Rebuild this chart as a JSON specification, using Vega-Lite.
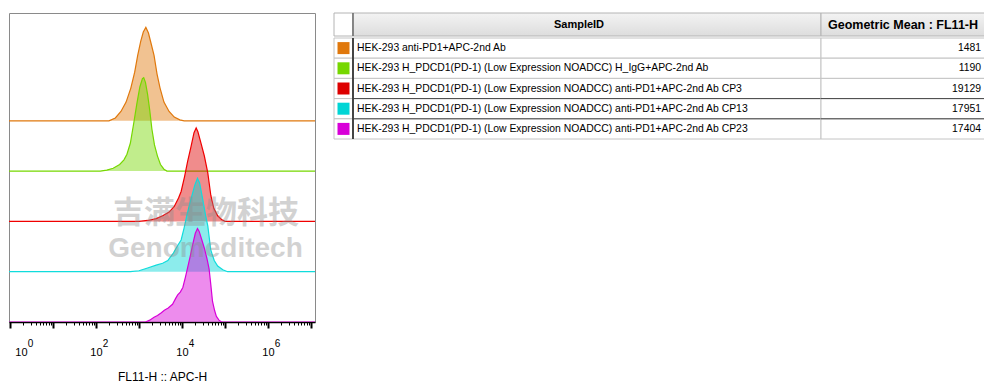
{
  "$schema": "https://vega.github.io/schema/vega-lite/v6.json",
  "background": "white",
  "padding": {"left": 8, "top": 12, "right": 0, "bottom": 0},
  "bounds": "flush",
  "config": {"font": "Liberation Sans", "view": {"stroke": null}},
  "datasets": {
    "table": [
      {"SampleID": "HEK-293 anti-PD1+APC-2nd Ab", "geomean": 1481},
      {"SampleID": "HEK-293 H_PDCD1(PD-1) (Low Expression NOADCC) H_IgG+APC-2nd Ab", "geomean": 1190},
      {"SampleID": "HEK-293 H_PDCD1(PD-1) (Low Expression NOADCC) anti-PD1+APC-2nd Ab CP3", "geomean": 19129},
      {"SampleID": "HEK-293 H_PDCD1(PD-1) (Low Expression NOADCC) anti-PD1+APC-2nd Ab CP13", "geomean": 17951},
      {"SampleID": "HEK-293 H_PDCD1(PD-1) (Low Expression NOADCC) anti-PD1+APC-2nd Ab CP23", "geomean": 17404}
    ],
    "hist": [
      {"s": "HEK-293 anti-PD1+APC-2nd Ab", "FL11-H": 0.9, "count": 0},
      {"s": "HEK-293 anti-PD1+APC-2nd Ab", "FL11-H": 200, "count": 0},
      {"s": "HEK-293 anti-PD1+APC-2nd Ab", "FL11-H": 282, "count": 3},
      {"s": "HEK-293 anti-PD1+APC-2nd Ab", "FL11-H": 380, "count": 10},
      {"s": "HEK-293 anti-PD1+APC-2nd Ab", "FL11-H": 501, "count": 20},
      {"s": "HEK-293 anti-PD1+APC-2nd Ab", "FL11-H": 646, "count": 35},
      {"s": "HEK-293 anti-PD1+APC-2nd Ab", "FL11-H": 794, "count": 52},
      {"s": "HEK-293 anti-PD1+APC-2nd Ab", "FL11-H": 933, "count": 70},
      {"s": "HEK-293 anti-PD1+APC-2nd Ab", "FL11-H": 1096, "count": 85},
      {"s": "HEK-293 anti-PD1+APC-2nd Ab", "FL11-H": 1259, "count": 95},
      {"s": "HEK-293 anti-PD1+APC-2nd Ab", "FL11-H": 1445, "count": 100},
      {"s": "HEK-293 anti-PD1+APC-2nd Ab", "FL11-H": 1660, "count": 94},
      {"s": "HEK-293 anti-PD1+APC-2nd Ab", "FL11-H": 1905, "count": 83},
      {"s": "HEK-293 anti-PD1+APC-2nd Ab", "FL11-H": 2239, "count": 70},
      {"s": "HEK-293 anti-PD1+APC-2nd Ab", "FL11-H": 2630, "count": 50},
      {"s": "HEK-293 anti-PD1+APC-2nd Ab", "FL11-H": 3090, "count": 35},
      {"s": "HEK-293 anti-PD1+APC-2nd Ab", "FL11-H": 3802, "count": 20},
      {"s": "HEK-293 anti-PD1+APC-2nd Ab", "FL11-H": 5012, "count": 10},
      {"s": "HEK-293 anti-PD1+APC-2nd Ab", "FL11-H": 6607, "count": 4},
      {"s": "HEK-293 anti-PD1+APC-2nd Ab", "FL11-H": 8913, "count": 1},
      {"s": "HEK-293 anti-PD1+APC-2nd Ab", "FL11-H": 11220, "count": 0},
      {"s": "HEK-293 anti-PD1+APC-2nd Ab", "FL11-H": 13000000, "count": 0},

      {"s": "HEK-293 H_PDCD1(PD-1) (Low Expression NOADCC) H_IgG+APC-2nd Ab", "FL11-H": 0.9, "count": 0},
      {"s": "HEK-293 H_PDCD1(PD-1) (Low Expression NOADCC) H_IgG+APC-2nd Ab", "FL11-H": 126, "count": 0},
      {"s": "HEK-293 H_PDCD1(PD-1) (Low Expression NOADCC) H_IgG+APC-2nd Ab", "FL11-H": 178, "count": 1},
      {"s": "HEK-293 H_PDCD1(PD-1) (Low Expression NOADCC) H_IgG+APC-2nd Ab", "FL11-H": 251, "count": 3},
      {"s": "HEK-293 H_PDCD1(PD-1) (Low Expression NOADCC) H_IgG+APC-2nd Ab", "FL11-H": 355, "count": 7},
      {"s": "HEK-293 H_PDCD1(PD-1) (Low Expression NOADCC) H_IgG+APC-2nd Ab", "FL11-H": 447, "count": 12},
      {"s": "HEK-293 H_PDCD1(PD-1) (Low Expression NOADCC) H_IgG+APC-2nd Ab", "FL11-H": 525, "count": 18},
      {"s": "HEK-293 H_PDCD1(PD-1) (Low Expression NOADCC) H_IgG+APC-2nd Ab", "FL11-H": 631, "count": 30},
      {"s": "HEK-293 H_PDCD1(PD-1) (Low Expression NOADCC) H_IgG+APC-2nd Ab", "FL11-H": 759, "count": 52},
      {"s": "HEK-293 H_PDCD1(PD-1) (Low Expression NOADCC) H_IgG+APC-2nd Ab", "FL11-H": 891, "count": 72},
      {"s": "HEK-293 H_PDCD1(PD-1) (Low Expression NOADCC) H_IgG+APC-2nd Ab", "FL11-H": 1047, "count": 90},
      {"s": "HEK-293 H_PDCD1(PD-1) (Low Expression NOADCC) H_IgG+APC-2nd Ab", "FL11-H": 1202, "count": 99},
      {"s": "HEK-293 H_PDCD1(PD-1) (Low Expression NOADCC) H_IgG+APC-2nd Ab", "FL11-H": 1288, "count": 100},
      {"s": "HEK-293 H_PDCD1(PD-1) (Low Expression NOADCC) H_IgG+APC-2nd Ab", "FL11-H": 1413, "count": 95},
      {"s": "HEK-293 H_PDCD1(PD-1) (Low Expression NOADCC) H_IgG+APC-2nd Ab", "FL11-H": 1585, "count": 82},
      {"s": "HEK-293 H_PDCD1(PD-1) (Low Expression NOADCC) H_IgG+APC-2nd Ab", "FL11-H": 1778, "count": 65},
      {"s": "HEK-293 H_PDCD1(PD-1) (Low Expression NOADCC) H_IgG+APC-2nd Ab", "FL11-H": 1995, "count": 45},
      {"s": "HEK-293 H_PDCD1(PD-1) (Low Expression NOADCC) H_IgG+APC-2nd Ab", "FL11-H": 2291, "count": 28},
      {"s": "HEK-293 H_PDCD1(PD-1) (Low Expression NOADCC) H_IgG+APC-2nd Ab", "FL11-H": 2692, "count": 16},
      {"s": "HEK-293 H_PDCD1(PD-1) (Low Expression NOADCC) H_IgG+APC-2nd Ab", "FL11-H": 3162, "count": 7},
      {"s": "HEK-293 H_PDCD1(PD-1) (Low Expression NOADCC) H_IgG+APC-2nd Ab", "FL11-H": 3802, "count": 2},
      {"s": "HEK-293 H_PDCD1(PD-1) (Low Expression NOADCC) H_IgG+APC-2nd Ab", "FL11-H": 4467, "count": 0},
      {"s": "HEK-293 H_PDCD1(PD-1) (Low Expression NOADCC) H_IgG+APC-2nd Ab", "FL11-H": 13000000, "count": 0},

      {"s": "HEK-293 H_PDCD1(PD-1) (Low Expression NOADCC) anti-PD1+APC-2nd Ab CP3", "FL11-H": 0.9, "count": 0},
      {"s": "HEK-293 H_PDCD1(PD-1) (Low Expression NOADCC) anti-PD1+APC-2nd Ab CP3", "FL11-H": 1000, "count": 0},
      {"s": "HEK-293 H_PDCD1(PD-1) (Low Expression NOADCC) anti-PD1+APC-2nd Ab CP3", "FL11-H": 1585, "count": 1},
      {"s": "HEK-293 H_PDCD1(PD-1) (Low Expression NOADCC) anti-PD1+APC-2nd Ab CP3", "FL11-H": 2512, "count": 3},
      {"s": "HEK-293 H_PDCD1(PD-1) (Low Expression NOADCC) anti-PD1+APC-2nd Ab CP3", "FL11-H": 3548, "count": 6},
      {"s": "HEK-293 H_PDCD1(PD-1) (Low Expression NOADCC) anti-PD1+APC-2nd Ab CP3", "FL11-H": 5012, "count": 10},
      {"s": "HEK-293 H_PDCD1(PD-1) (Low Expression NOADCC) anti-PD1+APC-2nd Ab CP3", "FL11-H": 6607, "count": 16},
      {"s": "HEK-293 H_PDCD1(PD-1) (Low Expression NOADCC) anti-PD1+APC-2nd Ab CP3", "FL11-H": 8318, "count": 25},
      {"s": "HEK-293 H_PDCD1(PD-1) (Low Expression NOADCC) anti-PD1+APC-2nd Ab CP3", "FL11-H": 9550, "count": 32},
      {"s": "HEK-293 H_PDCD1(PD-1) (Low Expression NOADCC) anti-PD1+APC-2nd Ab CP3", "FL11-H": 11482, "count": 48},
      {"s": "HEK-293 H_PDCD1(PD-1) (Low Expression NOADCC) anti-PD1+APC-2nd Ab CP3", "FL11-H": 13490, "count": 64},
      {"s": "HEK-293 H_PDCD1(PD-1) (Low Expression NOADCC) anti-PD1+APC-2nd Ab CP3", "FL11-H": 16218, "count": 80},
      {"s": "HEK-293 H_PDCD1(PD-1) (Low Expression NOADCC) anti-PD1+APC-2nd Ab CP3", "FL11-H": 19055, "count": 95},
      {"s": "HEK-293 H_PDCD1(PD-1) (Low Expression NOADCC) anti-PD1+APC-2nd Ab CP3", "FL11-H": 21380, "count": 100},
      {"s": "HEK-293 H_PDCD1(PD-1) (Low Expression NOADCC) anti-PD1+APC-2nd Ab CP3", "FL11-H": 23442, "count": 96},
      {"s": "HEK-293 H_PDCD1(PD-1) (Low Expression NOADCC) anti-PD1+APC-2nd Ab CP3", "FL11-H": 27542, "count": 84},
      {"s": "HEK-293 H_PDCD1(PD-1) (Low Expression NOADCC) anti-PD1+APC-2nd Ab CP3", "FL11-H": 33113, "count": 70},
      {"s": "HEK-293 H_PDCD1(PD-1) (Low Expression NOADCC) anti-PD1+APC-2nd Ab CP3", "FL11-H": 39811, "count": 52},
      {"s": "HEK-293 H_PDCD1(PD-1) (Low Expression NOADCC) anti-PD1+APC-2nd Ab CP3", "FL11-H": 46774, "count": 28},
      {"s": "HEK-293 H_PDCD1(PD-1) (Low Expression NOADCC) anti-PD1+APC-2nd Ab CP3", "FL11-H": 54954, "count": 14},
      {"s": "HEK-293 H_PDCD1(PD-1) (Low Expression NOADCC) anti-PD1+APC-2nd Ab CP3", "FL11-H": 67608, "count": 6},
      {"s": "HEK-293 H_PDCD1(PD-1) (Low Expression NOADCC) anti-PD1+APC-2nd Ab CP3", "FL11-H": 83176, "count": 2},
      {"s": "HEK-293 H_PDCD1(PD-1) (Low Expression NOADCC) anti-PD1+APC-2nd Ab CP3", "FL11-H": 100000, "count": 0},
      {"s": "HEK-293 H_PDCD1(PD-1) (Low Expression NOADCC) anti-PD1+APC-2nd Ab CP3", "FL11-H": 13000000, "count": 0},

      {"s": "HEK-293 H_PDCD1(PD-1) (Low Expression NOADCC) anti-PD1+APC-2nd Ab CP13", "FL11-H": 0.9, "count": 0},
      {"s": "HEK-293 H_PDCD1(PD-1) (Low Expression NOADCC) anti-PD1+APC-2nd Ab CP13", "FL11-H": 631, "count": 0},
      {"s": "HEK-293 H_PDCD1(PD-1) (Low Expression NOADCC) anti-PD1+APC-2nd Ab CP13", "FL11-H": 1000, "count": 1},
      {"s": "HEK-293 H_PDCD1(PD-1) (Low Expression NOADCC) anti-PD1+APC-2nd Ab CP13", "FL11-H": 1585, "count": 4},
      {"s": "HEK-293 H_PDCD1(PD-1) (Low Expression NOADCC) anti-PD1+APC-2nd Ab CP13", "FL11-H": 2512, "count": 7},
      {"s": "HEK-293 H_PDCD1(PD-1) (Low Expression NOADCC) anti-PD1+APC-2nd Ab CP13", "FL11-H": 3548, "count": 9},
      {"s": "HEK-293 H_PDCD1(PD-1) (Low Expression NOADCC) anti-PD1+APC-2nd Ab CP13", "FL11-H": 4677, "count": 12},
      {"s": "HEK-293 H_PDCD1(PD-1) (Low Expression NOADCC) anti-PD1+APC-2nd Ab CP13", "FL11-H": 6310, "count": 20},
      {"s": "HEK-293 H_PDCD1(PD-1) (Low Expression NOADCC) anti-PD1+APC-2nd Ab CP13", "FL11-H": 7943, "count": 28},
      {"s": "HEK-293 H_PDCD1(PD-1) (Low Expression NOADCC) anti-PD1+APC-2nd Ab CP13", "FL11-H": 9550, "count": 34},
      {"s": "HEK-293 H_PDCD1(PD-1) (Low Expression NOADCC) anti-PD1+APC-2nd Ab CP13", "FL11-H": 11220, "count": 47},
      {"s": "HEK-293 H_PDCD1(PD-1) (Low Expression NOADCC) anti-PD1+APC-2nd Ab CP13", "FL11-H": 13183, "count": 62},
      {"s": "HEK-293 H_PDCD1(PD-1) (Low Expression NOADCC) anti-PD1+APC-2nd Ab CP13", "FL11-H": 16218, "count": 78},
      {"s": "HEK-293 H_PDCD1(PD-1) (Low Expression NOADCC) anti-PD1+APC-2nd Ab CP13", "FL11-H": 19953, "count": 93},
      {"s": "HEK-293 H_PDCD1(PD-1) (Low Expression NOADCC) anti-PD1+APC-2nd Ab CP13", "FL11-H": 22909, "count": 100},
      {"s": "HEK-293 H_PDCD1(PD-1) (Low Expression NOADCC) anti-PD1+APC-2nd Ab CP13", "FL11-H": 25704, "count": 95},
      {"s": "HEK-293 H_PDCD1(PD-1) (Low Expression NOADCC) anti-PD1+APC-2nd Ab CP13", "FL11-H": 30200, "count": 78},
      {"s": "HEK-293 H_PDCD1(PD-1) (Low Expression NOADCC) anti-PD1+APC-2nd Ab CP13", "FL11-H": 35481, "count": 60},
      {"s": "HEK-293 H_PDCD1(PD-1) (Low Expression NOADCC) anti-PD1+APC-2nd Ab CP13", "FL11-H": 39811, "count": 49},
      {"s": "HEK-293 H_PDCD1(PD-1) (Low Expression NOADCC) anti-PD1+APC-2nd Ab CP13", "FL11-H": 46774, "count": 23},
      {"s": "HEK-293 H_PDCD1(PD-1) (Low Expression NOADCC) anti-PD1+APC-2nd Ab CP13", "FL11-H": 56234, "count": 12},
      {"s": "HEK-293 H_PDCD1(PD-1) (Low Expression NOADCC) anti-PD1+APC-2nd Ab CP13", "FL11-H": 67608, "count": 6},
      {"s": "HEK-293 H_PDCD1(PD-1) (Low Expression NOADCC) anti-PD1+APC-2nd Ab CP13", "FL11-H": 89125, "count": 2},
      {"s": "HEK-293 H_PDCD1(PD-1) (Low Expression NOADCC) anti-PD1+APC-2nd Ab CP13", "FL11-H": 114815, "count": 0},
      {"s": "HEK-293 H_PDCD1(PD-1) (Low Expression NOADCC) anti-PD1+APC-2nd Ab CP13", "FL11-H": 13000000, "count": 0},

      {"s": "HEK-293 H_PDCD1(PD-1) (Low Expression NOADCC) anti-PD1+APC-2nd Ab CP23", "FL11-H": 0.9, "count": 0},
      {"s": "HEK-293 H_PDCD1(PD-1) (Low Expression NOADCC) anti-PD1+APC-2nd Ab CP23", "FL11-H": 1413, "count": 0},
      {"s": "HEK-293 H_PDCD1(PD-1) (Low Expression NOADCC) anti-PD1+APC-2nd Ab CP23", "FL11-H": 1778, "count": 2},
      {"s": "HEK-293 H_PDCD1(PD-1) (Low Expression NOADCC) anti-PD1+APC-2nd Ab CP23", "FL11-H": 2239, "count": 5},
      {"s": "HEK-293 H_PDCD1(PD-1) (Low Expression NOADCC) anti-PD1+APC-2nd Ab CP23", "FL11-H": 2692, "count": 7},
      {"s": "HEK-293 H_PDCD1(PD-1) (Low Expression NOADCC) anti-PD1+APC-2nd Ab CP23", "FL11-H": 3311, "count": 10},
      {"s": "HEK-293 H_PDCD1(PD-1) (Low Expression NOADCC) anti-PD1+APC-2nd Ab CP23", "FL11-H": 3890, "count": 12.5},
      {"s": "HEK-293 H_PDCD1(PD-1) (Low Expression NOADCC) anti-PD1+APC-2nd Ab CP23", "FL11-H": 4786, "count": 15},
      {"s": "HEK-293 H_PDCD1(PD-1) (Low Expression NOADCC) anti-PD1+APC-2nd Ab CP23", "FL11-H": 6026, "count": 19},
      {"s": "HEK-293 H_PDCD1(PD-1) (Low Expression NOADCC) anti-PD1+APC-2nd Ab CP23", "FL11-H": 7079, "count": 25},
      {"s": "HEK-293 H_PDCD1(PD-1) (Low Expression NOADCC) anti-PD1+APC-2nd Ab CP23", "FL11-H": 7943, "count": 29},
      {"s": "HEK-293 H_PDCD1(PD-1) (Low Expression NOADCC) anti-PD1+APC-2nd Ab CP23", "FL11-H": 9120, "count": 32},
      {"s": "HEK-293 H_PDCD1(PD-1) (Low Expression NOADCC) anti-PD1+APC-2nd Ab CP23", "FL11-H": 10471, "count": 37},
      {"s": "HEK-293 H_PDCD1(PD-1) (Low Expression NOADCC) anti-PD1+APC-2nd Ab CP23", "FL11-H": 12023, "count": 48},
      {"s": "HEK-293 H_PDCD1(PD-1) (Low Expression NOADCC) anti-PD1+APC-2nd Ab CP23", "FL11-H": 13490, "count": 58},
      {"s": "HEK-293 H_PDCD1(PD-1) (Low Expression NOADCC) anti-PD1+APC-2nd Ab CP23", "FL11-H": 15488, "count": 70},
      {"s": "HEK-293 H_PDCD1(PD-1) (Low Expression NOADCC) anti-PD1+APC-2nd Ab CP23", "FL11-H": 17783, "count": 83},
      {"s": "HEK-293 H_PDCD1(PD-1) (Low Expression NOADCC) anti-PD1+APC-2nd Ab CP23", "FL11-H": 20417, "count": 95},
      {"s": "HEK-293 H_PDCD1(PD-1) (Low Expression NOADCC) anti-PD1+APC-2nd Ab CP23", "FL11-H": 22909, "count": 100},
      {"s": "HEK-293 H_PDCD1(PD-1) (Low Expression NOADCC) anti-PD1+APC-2nd Ab CP23", "FL11-H": 25119, "count": 97},
      {"s": "HEK-293 H_PDCD1(PD-1) (Low Expression NOADCC) anti-PD1+APC-2nd Ab CP23", "FL11-H": 28840, "count": 88},
      {"s": "HEK-293 H_PDCD1(PD-1) (Low Expression NOADCC) anti-PD1+APC-2nd Ab CP23", "FL11-H": 33113, "count": 79},
      {"s": "HEK-293 H_PDCD1(PD-1) (Low Expression NOADCC) anti-PD1+APC-2nd Ab CP23", "FL11-H": 38019, "count": 68},
      {"s": "HEK-293 H_PDCD1(PD-1) (Low Expression NOADCC) anti-PD1+APC-2nd Ab CP23", "FL11-H": 42658, "count": 57},
      {"s": "HEK-293 H_PDCD1(PD-1) (Low Expression NOADCC) anti-PD1+APC-2nd Ab CP23", "FL11-H": 46774, "count": 40},
      {"s": "HEK-293 H_PDCD1(PD-1) (Low Expression NOADCC) anti-PD1+APC-2nd Ab CP23", "FL11-H": 51286, "count": 22},
      {"s": "HEK-293 H_PDCD1(PD-1) (Low Expression NOADCC) anti-PD1+APC-2nd Ab CP23", "FL11-H": 57544, "count": 12},
      {"s": "HEK-293 H_PDCD1(PD-1) (Low Expression NOADCC) anti-PD1+APC-2nd Ab CP23", "FL11-H": 63096, "count": 6},
      {"s": "HEK-293 H_PDCD1(PD-1) (Low Expression NOADCC) anti-PD1+APC-2nd Ab CP23", "FL11-H": 72444, "count": 2},
      {"s": "HEK-293 H_PDCD1(PD-1) (Low Expression NOADCC) anti-PD1+APC-2nd Ab CP23", "FL11-H": 83176, "count": 0},
      {"s": "HEK-293 H_PDCD1(PD-1) (Low Expression NOADCC) anti-PD1+APC-2nd Ab CP23", "FL11-H": 13000000, "count": 0}
    ]
  },
  "hconcat": [
    {
      "width": 306,
      "height": 309,
      "view": {"stroke": "#8a8a8a", "strokeWidth": 1},
      "data": {"name": "hist"},
      "resolve": {"scale": {"y": "independent"}, "axis": {"x": "independent"}},
      "layer": [
        {
          "transform": [{"filter": {"field": "s", "equal": "HEK-293 anti-PD1+APC-2nd Ab"}}],
          "encoding": {
            "x": {"field": "FL11-H", "type": "quantitative",
              "scale": {"type": "log", "domain": [0.948, 12400000], "nice": false, "clamp": false},
              "axis": {
                "orient": "bottom",
                "values": [1,2,3,4,5,6,7,8,9,10,20,30,40,50,60,70,80,90,100,200,300,400,500,600,700,800,900,1000,2000,3000,4000,5000,6000,7000,8000,9000,10000,20000,30000,40000,50000,60000,70000,80000,90000,100000,200000,300000,400000,500000,600000,700000,800000,900000,1000000,2000000,3000000,4000000,5000000,6000000,7000000,8000000,9000000,10000000],
                "title": "FL11-H :: APC-H",
                "titleFontSize": 12, "titleFontWeight": "normal", "titleColor": "black", "titlePadding": 14,
                "domainColor": "black", "domainWidth": 1.5,
                "tickColor": "black",
                "tickSize": {"condition": {"test": "indexof([1,10,100,1000,10000,100000,1000000,10000000], datum.value) >= 0", "value": 6}, "value": 3},
                "tickWidth": {"condition": {"test": "indexof([1,10,100,1000,10000,100000,1000000,10000000], datum.value) >= 0", "value": 2}, "value": 1},
                "labelExpr": "indexof([1,100,10000,1000000], datum.value) >= 0 ? '10' : ''",
                "labelFontSize": 11, "labelColor": "black",
                "labelFlush": false, "labelOverlap": false, "labelBound": false,
                "labelOffset": {"condition": {"test": "datum.value == 1", "value": 11}, "value": 0},
                "labelPadding": 18,
                "grid": false
              }
            },
            "y": {"field": "count", "type": "quantitative", "scale": {"domain": [-215.4, 115.4], "nice": false, "zero": false}, "axis": null}
          },
          "layer": [
            {"mark": {"type": "area", "color": "#E0780C", "fillOpacity": 0.45, "clip": true}, "encoding": {"y2": {"datum": 0}}},
            {"mark": {"type": "line", "color": "#E0780C", "strokeWidth": 1.2, "clip": true}, "encoding": {}}
          ]
        },
        {
          "transform": [{"filter": {"field": "s", "equal": "HEK-293 H_PDCD1(PD-1) (Low Expression NOADCC) H_IgG+APC-2nd Ab"}}],
          "encoding": {
            "x": {"field": "FL11-H", "type": "quantitative",
              "axis": {
                "orient": "bottom",
                "values": [1, 100, 10000, 1000000],
                "title": null, "domain": false, "ticks": false, "grid": false,
                "labelExpr": "datum.value == 1 ? '0' : datum.value == 100 ? '2' : datum.value == 10000 ? '4' : '6'",
                "labelFontSize": 10, "labelColor": "black",
                "labelFlush": false, "labelOverlap": false, "labelBound": false,
                "labelOffset": {"condition": {"test": "datum.value == 1", "value": 20}, "value": 9},
                "labelPadding": 16
              }
            },
            "y": {"field": "count", "type": "quantitative", "scale": {"domain": [-161.6, 169.2], "nice": false, "zero": false}, "axis": null}
          },
          "layer": [
            {"mark": {"type": "area", "color": "#76D700", "fillOpacity": 0.45, "clip": true}, "encoding": {"y2": {"datum": 0}}},
            {"mark": {"type": "line", "color": "#76D700", "strokeWidth": 1.2, "clip": true}, "encoding": {}}
          ]
        },
        {
          "transform": [{"filter": {"field": "s", "equal": "HEK-293 H_PDCD1(PD-1) (Low Expression NOADCC) anti-PD1+APC-2nd Ab CP3"}}],
          "encoding": {
            "x": {"field": "FL11-H", "type": "quantitative", "axis": null},
            "y": {"field": "count", "type": "quantitative", "scale": {"domain": [-107.7, 223.1], "nice": false, "zero": false}, "axis": null}
          },
          "layer": [
            {"mark": {"type": "area", "color": "#DD0000", "fillOpacity": 0.45, "clip": true}, "encoding": {"y2": {"datum": 0}}},
            {"mark": {"type": "line", "color": "#F00000", "strokeWidth": 1.2, "clip": true}, "encoding": {}}
          ]
        },
        {
          "transform": [{"filter": {"field": "s", "equal": "HEK-293 H_PDCD1(PD-1) (Low Expression NOADCC) anti-PD1+APC-2nd Ab CP13"}}],
          "encoding": {
            "x": {"field": "FL11-H", "type": "quantitative", "axis": null},
            "y": {"field": "count", "type": "quantitative", "scale": {"domain": [-53.85, 277.0], "nice": false, "zero": false}, "axis": null}
          },
          "layer": [
            {"mark": {"type": "area", "color": "#00D5D5", "fillOpacity": 0.45, "clip": true}, "encoding": {"y2": {"datum": 0}}},
            {"mark": {"type": "line", "color": "#10DCDC", "strokeWidth": 1.2, "clip": true}, "encoding": {}}
          ]
        },
        {
          "transform": [{"filter": {"field": "s", "equal": "HEK-293 H_PDCD1(PD-1) (Low Expression NOADCC) anti-PD1+APC-2nd Ab CP23"}}],
          "encoding": {
            "x": {"field": "FL11-H", "type": "quantitative", "axis": null},
            "y": {"field": "count", "type": "quantitative", "scale": {"domain": [0, 330.8], "nice": false, "zero": false}, "axis": null}
          },
          "layer": [
            {"mark": {"type": "area", "color": "#D800D8", "fillOpacity": 0.45, "clip": true}, "encoding": {"y2": {"datum": 0}}},
            {"mark": {"type": "line", "color": "#D800D8", "strokeWidth": 1.2, "clip": true}, "encoding": {}}
          ]
        },
        {
          "data": {"values": [{}]},
          "mark": {"type": "text", "text": "吉满生物科技", "font": "Noto Sans CJK SC", "fontWeight": "bold", "fontSize": 31, "color": "#8c8c8c", "opacity": 0.38, "align": "center", "baseline": "middle"},
          "encoding": {
            "x": {"datum": 36000, "type": "quantitative", "axis": null},
            "y": {"datum": 115.6, "type": "quantitative", "scale": {"domain": [0, 330.8], "nice": false, "zero": false}, "axis": null}
          }
        },
        {
          "data": {"values": [{}]},
          "mark": {"type": "text", "text": "Genomeditech", "font": "Liberation Sans", "fontWeight": "bold", "fontSize": 28, "color": "#8c8c8c", "opacity": 0.38, "align": "center", "baseline": "middle"},
          "encoding": {
            "x": {"datum": 35200, "type": "quantitative", "axis": null},
            "y": {"datum": 78.1, "type": "quantitative", "scale": {"domain": [0, 330.8], "nice": false, "zero": false}, "axis": null}
          }
        }
      ]
    },
    {
      "spacing": 0,
      "vconcat": [
        {
          "spacing": 0,
          "bounds": "flush",
          "hconcat": [
            {
              "width": 19, "height": 23,
              "data": {"values": [{}]},
              "mark": {"type": "rect", "fill": "white", "stroke": "#b4b4b4", "strokeWidth": 1},
              "encoding": {}
            },
            {
              "width": 468, "height": 23,
              "data": {"values": [{}]},
              "layer": [
                {"mark": {"type": "rect", "stroke": "#b4b4b4", "strokeWidth": 1, "fill": {"gradient": "linear", "x1": 0, "y1": 0, "x2": 0, "y2": 1, "stops": [{"offset": 0, "color": "#f3f3f3"}, {"offset": 1, "color": "#dddddd"}]}}, "encoding": {}},
                {"mark": {"type": "rule", "color": "#404040", "strokeWidth": 1}, "encoding": {"x": {"datum": 0, "type": "quantitative", "scale": {"domain": [0, 1]}, "axis": null}}},
                {"mark": {"type": "text", "text": "SampleID", "fontSize": 11, "fontWeight": "bold", "color": "black", "align": "center", "baseline": "middle", "dx": -8}, "encoding": {}}
              ]
            },
            {
              "width": 164, "height": 23,
              "data": {"values": [{}]},
              "layer": [
                {"mark": {"type": "rect", "stroke": "#b4b4b4", "strokeWidth": 1, "fill": {"gradient": "linear", "x1": 0, "y1": 0, "x2": 0, "y2": 1, "stops": [{"offset": 0, "color": "#f3f3f3"}, {"offset": 1, "color": "#dddddd"}]}}, "encoding": {}},
                {"mark": {"type": "text", "text": "Geometric Mean : FL11-H", "fontSize": 12.5, "fontWeight": "bold", "color": "black", "align": "center", "baseline": "middle"}, "encoding": {}}
              ]
            }
          ]
        },
        {
          "spacing": 0,
          "bounds": "flush",
          "hconcat": [
            {
              "width": 19, "height": 101,
              "data": {"name": "table"},
              "encoding": {"y": {"field": "SampleID", "type": "nominal", "sort": null, "axis": null, "scale": {"paddingInner": 0, "paddingOuter": 0}}},
              "layer": [
                {"mark": {"type": "rect", "fill": "white", "stroke": "#c4c4c4", "strokeWidth": 1}},
                {"mark": {"type": "square", "size": 144, "filled": true, "opacity": 1},
                 "encoding": {"color": {"field": "SampleID", "type": "nominal", "legend": null,
                   "scale": {"domain": ["HEK-293 anti-PD1+APC-2nd Ab", "HEK-293 H_PDCD1(PD-1) (Low Expression NOADCC) H_IgG+APC-2nd Ab", "HEK-293 H_PDCD1(PD-1) (Low Expression NOADCC) anti-PD1+APC-2nd Ab CP3", "HEK-293 H_PDCD1(PD-1) (Low Expression NOADCC) anti-PD1+APC-2nd Ab CP13", "HEK-293 H_PDCD1(PD-1) (Low Expression NOADCC) anti-PD1+APC-2nd Ab CP23"],
                             "range": ["#E0780C", "#76D700", "#DD0000", "#00D5D5", "#D800D8"]}}}}
              ]
            },
            {
              "width": 468, "height": 101,
              "data": {"name": "table"},
              "encoding": {"y": {"field": "SampleID", "type": "nominal", "sort": null, "axis": null, "scale": {"paddingInner": 0, "paddingOuter": 0}}},
              "layer": [
                {"mark": {"type": "rect", "fill": "white", "stroke": "#c4c4c4", "strokeWidth": 1}},
                {"transform": [{"filter": {"field": "SampleID", "oneOf": ["HEK-293 H_PDCD1(PD-1) (Low Expression NOADCC) anti-PD1+APC-2nd Ab CP13", "HEK-293 H_PDCD1(PD-1) (Low Expression NOADCC) anti-PD1+APC-2nd Ab CP23"]}}],
                 "mark": {"type": "rule", "color": "#454545", "strokeWidth": 1},
                 "encoding": {"y": {"field": "SampleID", "type": "nominal", "sort": null, "bandPosition": 0}}},
                {"mark": {"type": "rule", "color": "#404040", "strokeWidth": 1}, "encoding": {"y": null, "x": {"datum": 0, "type": "quantitative", "scale": {"domain": [0, 1]}, "axis": null}}},
                {"mark": {"type": "text", "fontSize": 10.4, "color": "black", "align": "left", "baseline": "middle", "dx": 4},
                 "encoding": {"x": {"datum": 0, "type": "quantitative", "scale": {"domain": [0, 1]}, "axis": null}, "text": {"field": "SampleID"}}}
              ]
            },
            {
              "width": 164, "height": 101,
              "data": {"name": "table"},
              "encoding": {"y": {"field": "SampleID", "type": "nominal", "sort": null, "axis": null, "scale": {"paddingInner": 0, "paddingOuter": 0}}},
              "layer": [
                {"mark": {"type": "rect", "fill": "white", "stroke": "#c4c4c4", "strokeWidth": 1}},
                {"transform": [{"filter": {"field": "SampleID", "oneOf": ["HEK-293 H_PDCD1(PD-1) (Low Expression NOADCC) anti-PD1+APC-2nd Ab CP13", "HEK-293 H_PDCD1(PD-1) (Low Expression NOADCC) anti-PD1+APC-2nd Ab CP23"]}}],
                 "mark": {"type": "rule", "color": "#454545", "strokeWidth": 1},
                 "encoding": {"y": {"field": "SampleID", "type": "nominal", "sort": null, "bandPosition": 0}}},
                {"mark": {"type": "text", "fontSize": 10.4, "color": "black", "align": "right", "baseline": "middle", "dx": -4},
                 "encoding": {"x": {"datum": 1, "type": "quantitative", "scale": {"domain": [0, 1]}, "axis": null}, "text": {"field": "geomean", "type": "quantitative", "format": "d"}}}
              ]
            }
          ]
        }
      ]
    }
  ],
  "spacing": 19
}
